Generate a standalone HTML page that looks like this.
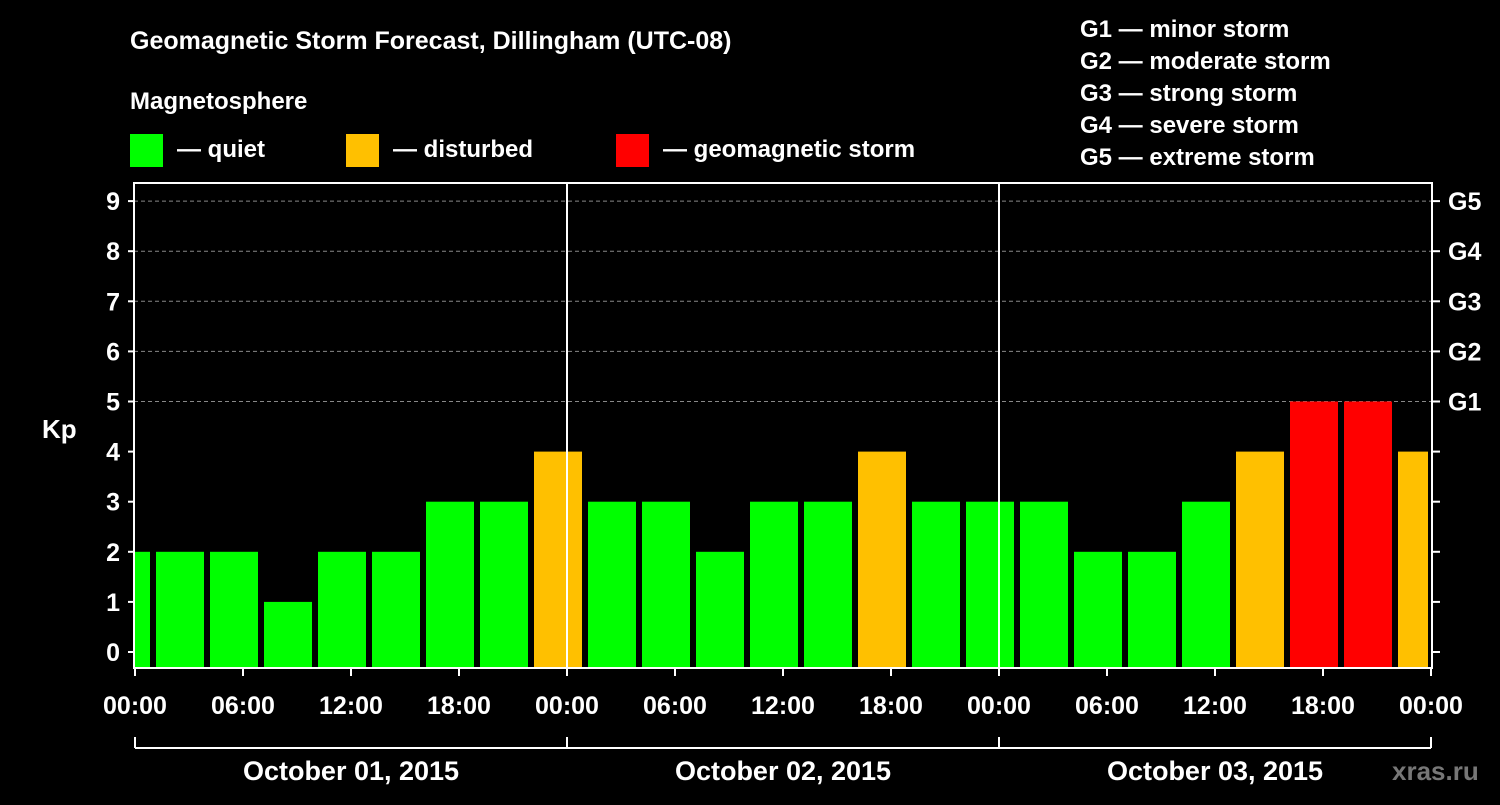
<!DOCTYPE html>
<html><head><meta charset="utf-8"><style>
body{margin:0;background:#000;}
svg text{font-family:"Liberation Sans",Arial,sans-serif;font-weight:bold;fill:#fff;}
</style></head><body>
<svg id="c" width="1500" height="800" viewBox="0 0 1500 800" xmlns="http://www.w3.org/2000/svg">
<rect width="1500" height="800" fill="#000"/>
<text x="130" y="49" font-size="25">Geomagnetic Storm Forecast, Dillingham (UTC-08)</text>
<text x="130" y="109" font-size="24">Magnetosphere</text>
<g><rect x="130" y="134" width="33" height="33" fill="#00ff00"/><text x="177" y="157" font-size="24">— quiet</text></g>
<g><rect x="346" y="134" width="33" height="33" fill="#ffc000"/><text x="393" y="157" font-size="24">— disturbed</text></g>
<g><rect x="616" y="134" width="33" height="33" fill="#ff0000"/><text x="663" y="157" font-size="24">— geomagnetic storm</text></g>
<g font-size="24">
<text x="1080" y="37">G1 — minor storm</text>
<text x="1080" y="69">G2 — moderate storm</text>
<text x="1080" y="101">G3 — strong storm</text>
<text x="1080" y="133">G4 — severe storm</text>
<text x="1080" y="165">G5 — extreme storm</text>
</g>
<g id="plot"></g>
<text x="42" y="438" font-size="26">Kp</text>
<text x="1392" y="780" font-size="26" fill="#777" style="fill:#777">xras.ru</text>
</svg>
<script>
const kpValues=[2,2,2,1,2,2,3,3,4,3,3,2,3,3,4,3,3,3,2,2,3,4,5,5,4];
const yTicks=[0,1,2,3,4,5,6,7,8,9];
const gLabels=["G1","G2","G3","G4","G5"];
const xTickLabels=["00:00","06:00","12:00","18:00","00:00","06:00","12:00","18:00","00:00","06:00","12:00","18:00","00:00"];
const dayLabels=["October 01, 2015","October 02, 2015","October 03, 2015"];
const NS="http://www.w3.org/2000/svg";
const L=134,R=1432,T=183,B=668,X0=135,PXH=18;
const y=k=>652-50.1*k;
const x=h=>X0+h*PXH;
const g=document.getElementById('plot');
function el(t,a,p){const e=document.createElementNS(NS,t);for(const k in a)e.setAttribute(k,a[k]);(p||g).appendChild(e);return e;}
// grid
yTicks.forEach(k=>{
 if(k>=5){const l=el('line',{x1:L,x2:R,y1:y(k),y2:y(k),stroke:'#888','stroke-dasharray':'4,3','stroke-width':1});
 }
});
// bars
kpValues.forEach((v,i)=>{
 let s=x(-2+3*i)+3,e=x(1+3*i)-3;
 s=Math.max(s,L+1);e=Math.min(e,R-4);
 const c=v>=5?'#ff0000':v>=4?'#ffc000':'#00ff00';
 const r=el('rect',{x:s,y:y(v),width:e-s,height:B-y(v),fill:c});
 
 
});
// day separators
[1,2].forEach(d=>{const l=el('line',{x1:x(24*d),x2:x(24*d),y1:T,y2:B,stroke:'#fff','stroke-width':2});
});
const fr=el('rect',{x:L,y:T,width:R-L,height:B-T,fill:'none',stroke:'#fff','stroke-width':2});

// y ticks
yTicks.forEach(k=>{
 el('line',{x1:L-6,x2:L,y1:y(k),y2:y(k),stroke:'#fff','stroke-width':2});
 el('line',{x1:R,x2:R+8,y1:y(k),y2:y(k),stroke:'#fff','stroke-width':2});
 const t=el('text',{x:L-14,y:y(k)+9,'font-size':25,'text-anchor':'end'});t.textContent=k;
 
});
gLabels.forEach((s,i)=>{const t=el('text',{x:1448,y:y(5+i)+9,'font-size':25});t.textContent=s;
 });
// x ticks
xTickLabels.forEach((s,i)=>{
 el('line',{x1:x(6*i),x2:x(6*i),y1:B,y2:B+8,stroke:'#fff','stroke-width':2});
 const t=el('text',{x:x(6*i),y:714,'font-size':25,'text-anchor':'middle'});t.textContent=s;
 
});
const br=el('line',{x1:x(0),x2:x(72),y1:748,y2:748,stroke:'#fff','stroke-width':2});

[0,1,2,3].forEach(d=>el('line',{x1:x(24*d),x2:x(24*d),y1:737,y2:748,stroke:'#fff','stroke-width':2}));
dayLabels.forEach((s,i)=>{const t=el('text',{x:x(24*i+12),y:780,'font-size':27,'text-anchor':'middle'});t.textContent=s;
 });
</script>
</body></html>
